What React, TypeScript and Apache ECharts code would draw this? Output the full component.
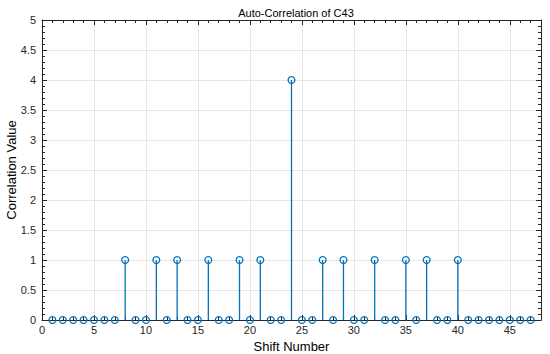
import React, { useEffect, useRef } from "react";
import * as echarts from "echarts";

const title = "Auto-Correlation of C43";
const xName = "Shift Number";
const yName = "Correlation Value";
const shifts = [1, 2, 3, 4, 5, 6, 7, 8, 9, 10, 11, 12, 13, 14, 15, 16, 17, 18, 19, 20, 21, 22, 23, 24, 25, 26, 27, 28, 29, 30, 31, 32, 33, 34, 35, 36, 37, 38, 39, 40, 41, 42, 43, 44, 45, 46, 47];
const values = [0, 0, 0, 0, 0, 0, 0, 1, 0, 0, 1, 0, 1, 0, 0, 1, 0, 0, 1, 0, 1, 0, 0, 4, 0, 0, 1, 0, 1, 0, 0, 1, 0, 0, 1, 0, 1, 0, 0, 1, 0, 0, 0, 0, 0, 0, 0];

const BLUE = "#0072BD";
const AXIS = "#262626";
const FONT = "Liberation Sans, Arial, Helvetica, sans-serif";

export default function App() {
  const ref = useRef<HTMLDivElement>(null);
  useEffect(() => {
    if (!ref.current) return;
    const chart = echarts.init(ref.current, undefined, { renderer: "svg" });
    const data = shifts.map((s, i) => [s, values[i]]);
    const lineStyle = { color: AXIS, width: 1 };
    const xBase = { type: "value" as const, min: 0, max: 48, gridIndex: 0 };
    const yBase = { type: "value" as const, min: 0, max: 5, interval: 0.5, gridIndex: 0 };
    chart.setOption({
      animation: false,
      backgroundColor: "#fff",
      textStyle: { fontFamily: FONT },
      title: {
        text: title,
        left: 291,
        textAlign: "center",
        top: 2,
        textStyle: { fontSize: 11, fontWeight: "normal", color: "#000", fontFamily: FONT },
      },
      grid: { left: 42, right: 9, top: 20, bottom: 34, containLabel: false, outerBoundsMode: "none" },
      xAxis: [
        {
          ...xBase,
          position: "bottom",
          interval: 5,
          name: xName,
          nameLocation: "middle",
          nameGap: 20,
          nameMoveOverlap: false,
          nameTextStyle: { fontSize: 13, color: "#000", fontFamily: FONT },
          axisLine: { show: true, onZero: false, lineStyle },
          axisTick: { show: true, inside: true, length: 5, lineStyle },
          axisLabel: {
            show: true,
            margin: 4,
            fontSize: 11,
            color: AXIS,
            fontFamily: FONT,
            formatter: (v: number) => (v % 5 === 0 ? String(v) : ""),
          },
          splitLine: { show: true, lineStyle: { color: "#e6e6e6", width: 1 } },
        },
        {
          ...xBase,
          position: "bottom",
          interval: 1,
          axisLine: { show: false, onZero: false },
          axisTick: { show: true, inside: true, length: 3, lineStyle },
          axisLabel: { show: false },
          splitLine: { show: false },
        },
        {
          ...xBase,
          position: "top",
          interval: 5,
          axisLine: { show: true, onZero: false, lineStyle },
          axisTick: { show: true, inside: true, length: 5, lineStyle },
          axisLabel: { show: false },
          splitLine: { show: false },
        },
        {
          ...xBase,
          position: "top",
          interval: 1,
          axisLine: { show: false, onZero: false },
          axisTick: { show: true, inside: true, length: 3, lineStyle },
          axisLabel: { show: false },
          splitLine: { show: false },
        },
      ],
      yAxis: [
        {
          ...yBase,
          position: "left",
          name: yName,
          nameLocation: "middle",
          nameGap: 24,
          nameMoveOverlap: false,
          nameTextStyle: { fontSize: 13, color: "#000", fontFamily: FONT },
          axisLine: { show: true, onZero: false, lineStyle },
          axisTick: { show: true, inside: true, length: 5, lineStyle },
          minorTick: { show: true, splitNumber: 5, length: 3, lineStyle },
          axisLabel: { show: true, margin: 6, fontSize: 11, color: AXIS, fontFamily: FONT },
          splitLine: { show: true, lineStyle: { color: "#e6e6e6", width: 1 } },
        },
        {
          ...yBase,
          position: "right",
          axisLine: { show: true, onZero: false, lineStyle },
          axisTick: { show: true, inside: true, length: 5, lineStyle },
          minorTick: { show: true, splitNumber: 5, length: 3, lineStyle },
          axisLabel: { show: false },
          splitLine: { show: false },
        },
      ],
      series: [
        {
          type: "custom",
          xAxisIndex: 0,
          yAxisIndex: 0,
          data,
          clip: false,
          renderItem: (params: any, api: any) => {
            const x = api.value(0);
            const y = api.value(1);
            const base = api.coord([x, 0]);
            const top = api.coord([x, y]);
            return {
              type: "group",
              children: [
                {
                  type: "line",
                  shape: { x1: base[0], y1: base[1], x2: top[0], y2: top[1] },
                  style: { stroke: BLUE, lineWidth: 1.3 },
                },
                {
                  type: "circle",
                  shape: { cx: top[0], cy: top[1], r: 3.4 },
                  style: { stroke: BLUE, lineWidth: 1.3, fill: "rgba(255,255,255,0)" },
                },
              ],
            };
          },
        },
      ],
    });
    return () => chart.dispose();
  }, []);
  return <div ref={ref} style={{ width: 550, height: 354, position: "absolute", left: 0, top: 0 }} />;
}
